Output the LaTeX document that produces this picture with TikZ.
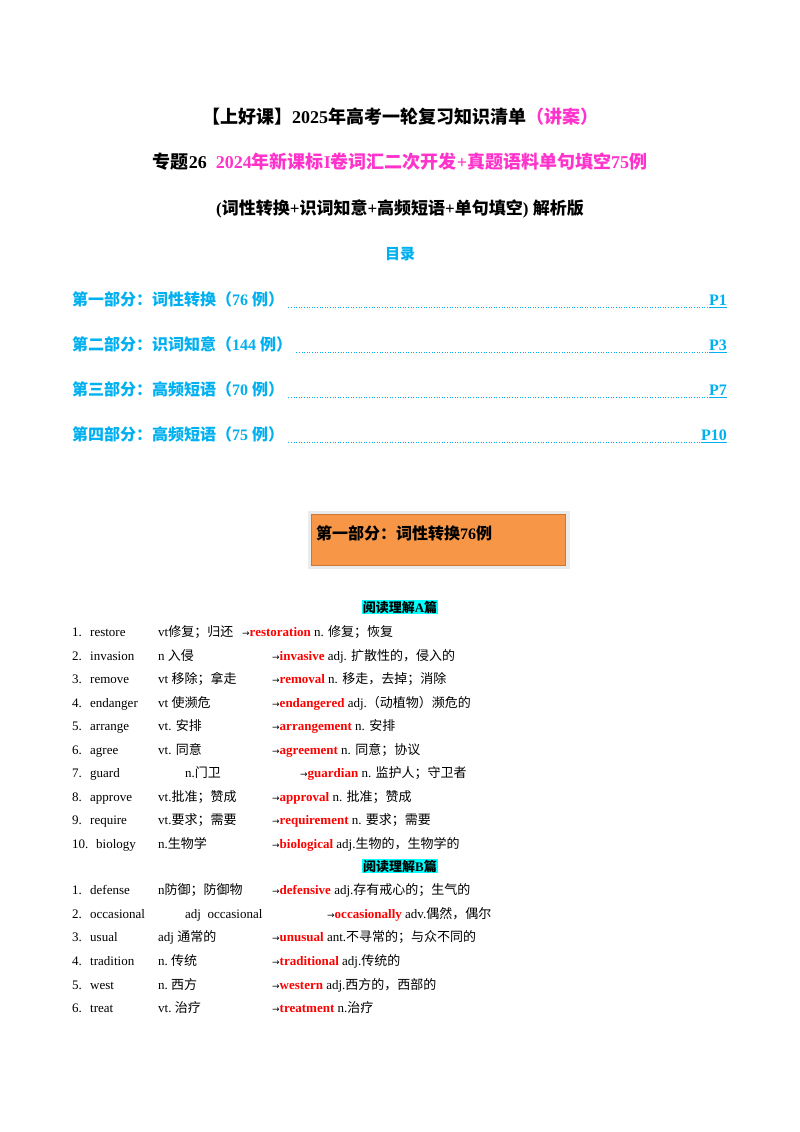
\documentclass[tikz,border=0pt]{standalone}
\usepackage{fontspec}
\setmainfont{Liberation Serif}
\newfontfamily\cjk{Noto Sans CJK SC}
\newfontfamily\sym{DejaVu Sans}
\newcommand\zh[1]{{\cjk #1}}
\definecolor{mag}{HTML}{FF33CC}
\definecolor{cy}{HTML}{00B0F0}
\definecolor{org}{HTML}{F79646}
\definecolor{hl}{HTML}{00FFFF}
\definecolor{rd}{HTML}{FF0000}
\tikzset{
  txt/.style={anchor=base west,inner sep=0pt,font=\fontsize{13}{15}\selectfont},
  ttl/.style={anchor=base,inner sep=0pt,font=\fontsize{18}{20}\selectfont\bfseries},
  toc/.style={anchor=base west,inner sep=0pt,text=cy,font=\fontsize{16}{18}\selectfont\bfseries},
  tocp/.style={anchor=base east,inner sep=0pt,text=cy,font=\fontsize{16}{18}\selectfont\bfseries},
  dots/.style={cy,line width=0.6pt,dotted},
  sec/.style={anchor=base,fill=hl,inner sep=1pt,font=\fontsize{13}{15}\selectfont\bfseries},
}
\newcommand\vrow[8]{%
  \node[txt] (n#2#1) at (72,#1) {#2.};
  \node[txt] (w#2#1) at (90,#1) {#3};
  \node[txt] (m#2#1) at (#4,#1) {#5};
  \node[txt] (r#2#1) at (#6,#1) {{\sym\fontsize{9}{10}\selectfont→}\textcolor{rd}{\bfseries #7} #8};
}
\begin{document}
\begin{tikzpicture}[x=1pt,y=-1pt]
\useasboundingbox[fill=white] (0,0) rectangle (800,1132);
\node[ttl] (t1) at (400,123) {\zh{【上好课】}2025\zh{年高考一轮复习知识清单}\textcolor{mag}{\zh{（讲案）}}};
\node[ttl] (t2) at (400,168) {\zh{专题}26\ \ \textcolor{mag}{2024\zh{年新课标}I\zh{卷词汇二次开发}+\zh{真题语料单句填空}75\zh{例}}};
\node[ttl,font=\fontsize{17}{19}\selectfont\bfseries] (t3) at (400,214) {(\zh{词性转换}+\zh{识词知意}+\zh{高频短语}+\zh{单句填空}) \zh{解析版}};
\node[ttl,text=cy,font=\fontsize{15}{17}\selectfont\bfseries] (ml) at (400,259) {\zh{目录}};
\foreach \y/\a/\b/\p in {305/第一部分：词性转换/76/P1, 350/第二部分：识词知意/144/P3, 395/第三部分：高频短语/70/P7, 440/第四部分：高频短语/75/P10}{
  \node[toc] (c\y) at (72,\y) {\zh{\a（}\b\ \zh{例）}};
  \node[tocp] (p\y) at (727,\y) {\p};
  \draw[dots] ([xshift=4pt,yshift=-2pt]c\y.base east) -- ([yshift=-2pt]p\y.base west);
  \draw[cy,line width=0.6pt] ([yshift=-2.5pt]p\y.base west) -- ([yshift=-2.5pt]p\y.base east);
}
\node[fill=black!8,minimum width=262pt,minimum height=58pt,inner sep=0pt] (sh) at (438.5,540) {};
\node[fill=org,draw=org!80!black,line width=0.3pt,minimum width=254pt,minimum height=51pt,inner sep=0pt] (box) at (438.5,540) {};
\node[anchor=base west,inner sep=0pt,font=\fontsize{16}{18}\selectfont\bfseries] (bt) at (316,539) {\zh{第一部分：词性转换}76\zh{例}};
\node[sec] (sa) at (400,612) {\zh{阅读理解}A\zh{篇}};
\vrow{636}{1}{restore}{158}{vt\zh{修复；归还}}{242}{restoration}{n. \zh{修复；恢复}}
\vrow{660}{2}{invasion}{158}{n \zh{入侵}}{272}{invasive}{adj. \zh{扩散性的，侵入的}}
\vrow{683}{3}{remove}{158}{vt \zh{移除；拿走}}{272}{removal}{n. \zh{移走，去掉；消除}}
\vrow{707}{4}{endanger}{158}{vt \zh{使濒危}}{272}{endangered}{adj.\zh{（动植物）濒危的}}
\vrow{730}{5}{arrange}{158}{vt. \zh{安排}}{272}{arrangement}{n. \zh{安排}}
\vrow{754}{6}{agree}{158}{vt. \zh{同意}}{272}{agreement}{n. \zh{同意；协议}}
\vrow{777}{7}{guard}{185}{n.\zh{门卫}}{300}{guardian}{n. \zh{监护人；守卫者}}
\vrow{801}{8}{approve}{158}{vt.\zh{批准；赞成}}{272}{approval}{n. \zh{批准；赞成}}
\vrow{824}{9}{require}{158}{vt.\zh{要求；需要}}{272}{requirement}{n. \zh{要求；需要}}
\node[txt] (n10) at (72,848) {10.};
\node[txt] (w10) at (96,848) {biology};
\node[txt] (m10) at (158,848) {n.\zh{生物学}};
\node[txt] (r10) at (272,848) {{\sym\fontsize{9}{10}\selectfont→}\textcolor{rd}{\bfseries biological} adj.\zh{生物的，生物学的}};
\node[sec] (sb) at (400,871) {\zh{阅读理解}B\zh{篇}};
\vrow{894}{1}{defense}{158}{n\zh{防御；防御物}}{272}{defensive}{adj.\zh{存有戒心的；生气的}}
\vrow{918}{2}{occasional}{185}{adj\ \ occasional}{327}{occasionally}{adv.\zh{偶然，偶尔}}
\vrow{941}{3}{usual}{158}{adj \zh{通常的}}{272}{unusual}{ant.\zh{不寻常的；与众不同的}}
\vrow{965}{4}{tradition}{158}{n.\ \zh{传统}}{272}{traditional}{adj.\zh{传统的}}
\vrow{989}{5}{west}{158}{n.\ \zh{西方}}{272}{western}{adj.\zh{西方的，西部的}}
\vrow{1012}{6}{treat}{158}{vt.\ \zh{治疗}}{272}{treatment}{n.\zh{治疗}}
\end{tikzpicture}
\end{document}
